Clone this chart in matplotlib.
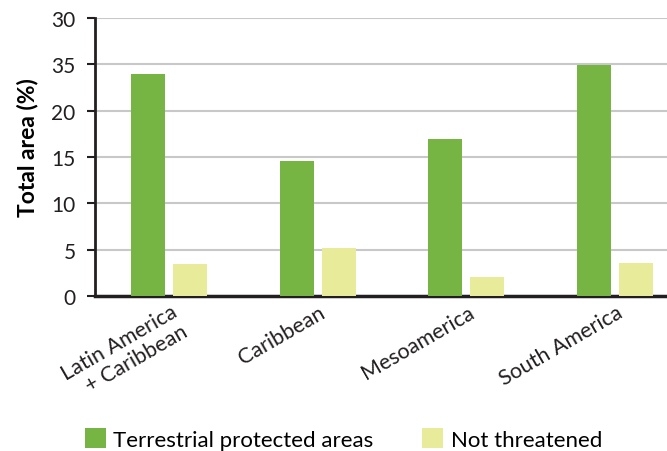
import numpy as np
import matplotlib.pyplot as plt
from matplotlib.patches import Patch
import matplotlib.transforms as mtransforms

plt.rcParams['font.family'] = ['Lato', 'DejaVu Sans']

regions = ['Latin America\n+ Caribbean', 'Caribbean', 'Mesoamerica', 'South America']
protected = [24.0, 14.6, 16.9, 24.9]
not_threatened = [3.5, 5.2, 2.1, 3.6]
y_ticks = [0, 5, 10, 15, 20, 25, 30]
y_tick_labels = ['0', '5', '10', '15', '20', '35', '30']

green = '#76B543'
yellow = '#E8EB9A'
dark = '#231F20'
fs = 15

fig = plt.figure(figsize=(6.67, 4.52), dpi=100)
ax = fig.add_axes([0.1424, 0.343, 0.8576, 0.615])

x = np.arange(len(regions))
w = 0.229
off = 0.141
ax.bar(x - off, protected, width=w, color=green, zorder=3)
ax.bar(x + off, not_threatened, width=w, color=yellow, zorder=3)

ax.set_xlim(-0.5, 3.35)
ax.set_ylim(0, 30)
ax.set_yticks(y_ticks)
ax.set_yticklabels(y_tick_labels, fontsize=fs, color=dark)
ax.yaxis.grid(True, color='#C8C8C8', linewidth=1.5, zorder=0)
ax.set_axisbelow(True)

for s in ['top', 'right']:
    ax.spines[s].set_visible(False)
ax.spines['left'].set_color(dark)
ax.spines['left'].set_linewidth(2)
ax.spines['bottom'].set_color(dark)
ax.spines['bottom'].set_linewidth(2.5)
ax.tick_params(axis='y', length=6, width=1.5, color=dark, pad=8)
ax.tick_params(axis='x', length=0, pad=4)

ax.set_ylabel('Total area (%)', fontsize=16.5, fontweight='bold', color='black')
ax.yaxis.set_label_coords(-0.099, 0.536)

ax.set_xticks(x)
ax.set_xticklabels(regions, fontsize=15.5, color=dark, rotation=30, linespacing=1.15,
                   ha='right', va='top', rotation_mode='anchor', multialignment='right')
for lab in ax.get_xticklabels():
    lab.set_transform(lab.get_transform() +
                      mtransforms.ScaledTranslation(1 / 100, 0, fig.dpi_scale_trans))

handles = [Patch(facecolor=green, label='Terrestrial protected areas'),
           Patch(facecolor=yellow, label='Not threatened')]
fig.legend(handles=handles, loc='center left', bbox_to_anchor=(0.127, 0.027),
           ncol=2, frameon=False, fontsize=16, handlelength=0.95, handleheight=1.05,
           handletextpad=0.33, columnspacing=2.2, borderpad=0, borderaxespad=0)

fig.savefig('out.png', dpi=100)
